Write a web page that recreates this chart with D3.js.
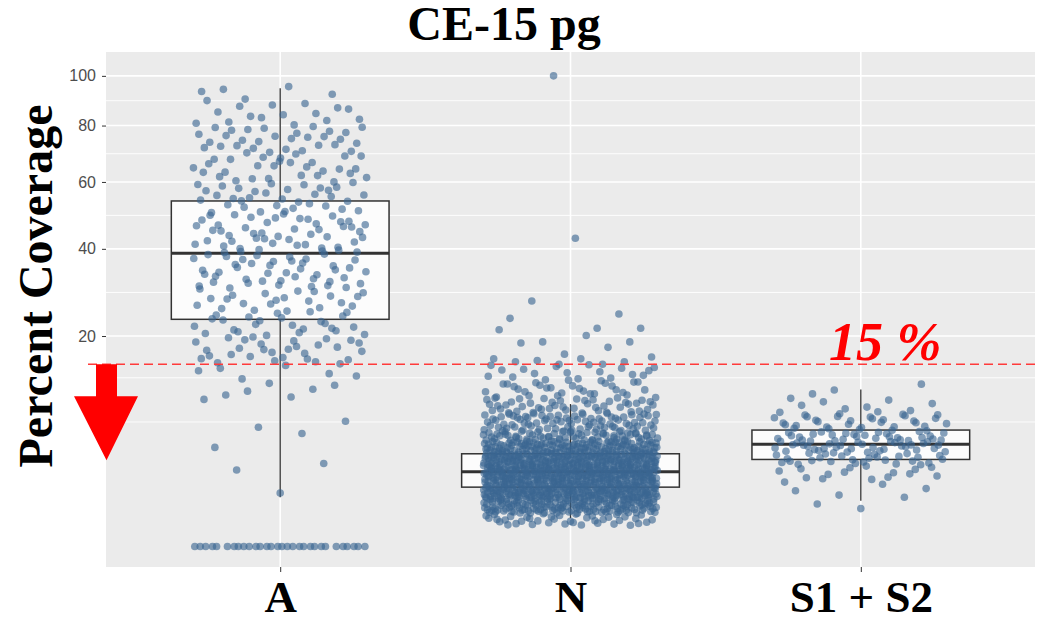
<!DOCTYPE html>
<html>
<head>
<meta charset="utf-8">
<script src="https://cdnjs.cloudflare.com/ajax/libs/d3/7.8.5/d3.min.js"></script>
<style>
  body { margin: 0; background: #fff; }
  svg { display: block; }
</style>
</head>
<body>
<script>
// categories and axis ticks
const categories = ['A', 'N', 'S1 + S2']
const yTicks = [20, 40, 60, 80, 100]
const minorTicks = [7, 12.85, 29.14, 49.5, 69.64, 89.72]
const threshold = 15

// box statistics (percent)
const whiskerLow = [1.1, 0.36, 0.94]
const q1 = [23.3, 1.59, 3.42]
const medians = [38.8, 2.52, 4.73]
const q3 = [53.9, 3.88, 6.12]
const whiskerHigh = [94.8, 9.16, 11.14]

// point counts per value bin (percent)
const binEdges = [0.2, 0.5, 1, 2, 3, 4, 5, 6, 8, 10, 12.5, 15, 20, 25, 30, 40, 50, 60, 70, 80, 90, 96]
const countsA = [0, 0, 1, 1, 1, 1, 1, 2, 1, 6, 6, 30, 25, 22, 50, 45, 35, 30, 30, 16, 5]
const countsN = [40, 140, 280, 240, 190, 120, 65, 80, 45, 30, 18, 0, 0, 0, 0, 0, 0, 0, 0, 0, 0]
const countsS = [0, 2, 6, 15, 28, 32, 28, 32, 10, 3, 0, 0, 0, 0, 0, 0, 0, 0, 0, 0, 0]
const zerosA = 30
const outliersN = [42.9, 27.2, 24.4, 23.5, 21.5, 100, 21.5, 21.2, 20.1, 18.9, 18.9, 18.7, 17.9, 16.7, 16.2, 15.9, 15.9, 15.6, 15.4, 15.4, 15.0, 15.0]

const width = 1038
const height = 623
const panelL = 106, panelR = 1035, panelT = 52, panelB = 567

const svg = d3.select('body').append('svg')
  .attr('width', width)
  .attr('height', height)

const x = d3.scalePoint().domain(categories).range([panelL, panelR]).padding(0.6)
const step = x.step()
const y = d3.scaleSqrt().domain([-0.19, 110.4]).range([panelB, panelT])

// deterministic jitter (Halton sequence)
function halton(i, b) {
  let f = 1, r = 0
  while (i > 0) { f /= b; r += f * (i % b); i = Math.floor(i / b) }
  return r
}

let points = []
function addGroup(cat, counts, extra) {
  let n = 1
  const push = v => { points.push({ cat, v, j: halton(n, 2) * 2 - 1 }); n++ }
  counts.forEach((c, k) => {
    const lo = Math.sqrt(binEdges[k]), hi = Math.sqrt(binEdges[k + 1])
    for (let i = 0; i < c; i++) {
      const s = lo + halton(n, 3) * (hi - lo)
      push(s * s)
    }
  })
  extra.forEach(push)
}
addGroup('A', countsA, d3.range(zerosA).map(() => 0))
addGroup('N', countsN, outliersN)
addGroup('S1 + S2', countsS, [])

// panel
svg.append('rect')
  .attr('x', panelL).attr('y', panelT)
  .attr('width', panelR - panelL).attr('height', panelB - panelT)
  .attr('fill', '#ebebeb')

svg.selectAll('.minor')
  .data(minorTicks)
  .enter().append('line')
  .attr('x1', panelL).attr('x2', panelR)
  .attr('y1', d => y(d)).attr('y2', d => y(d))
  .attr('stroke', '#fff').attr('stroke-width', 0.9)

svg.selectAll('.major')
  .data(yTicks)
  .enter().append('line')
  .attr('x1', panelL).attr('x2', panelR)
  .attr('y1', d => y(d)).attr('y2', d => y(d))
  .attr('stroke', '#fff').attr('stroke-width', 1.6)

svg.selectAll('.vgrid')
  .data(categories)
  .enter().append('line')
  .attr('x1', d => x(d)).attr('x2', d => x(d))
  .attr('y1', panelT).attr('y2', panelB)
  .attr('stroke', '#fff').attr('stroke-width', 1.6)

// boxes
const boxW = 0.75 * step
const boxes = categories.map((c, i) => ({
  c, lo: whiskerLow[i], q1: q1[i], med: medians[i], q3: q3[i], hi: whiskerHigh[i]
}))

const gBox = svg.append('g')
gBox.selectAll('.whisker')
  .data(boxes)
  .enter().append('line')
  .attr('x1', d => x(d.c)).attr('x2', d => x(d.c))
  .attr('y1', d => y(d.lo)).attr('y2', d => y(d.hi))
  .attr('stroke', '#333').attr('stroke-width', 1.3)

gBox.selectAll('.box')
  .data(boxes)
  .enter().append('rect')
  .attr('x', d => x(d.c) - boxW / 2)
  .attr('width', boxW)
  .attr('y', d => y(d.q3))
  .attr('height', d => y(d.q1) - y(d.q3))
  .attr('fill', '#fcfcfc')
  .attr('stroke', '#333').attr('stroke-width', 1.5)

gBox.selectAll('.median')
  .data(boxes)
  .enter().append('line')
  .attr('x1', d => x(d.c) - boxW / 2).attr('x2', d => x(d.c) + boxW / 2)
  .attr('y1', d => y(d.med)).attr('y2', d => y(d.med))
  .attr('stroke', '#333').attr('stroke-width', 3)

// jittered points
svg.append('g').selectAll('circle')
  .data(points)
  .enter().append('circle')
  .attr('cx', d => x(d.cat) + d.j * 0.3 * step)
  .attr('cy', d => y(d.v))
  .attr('r', 3.8)
  .attr('fill', '#3a6591')
  .attr('fill-opacity', 0.62)

// axes
const yAxis = svg.append('g')
  .attr('transform', `translate(${panelL},0)`)
  .call(d3.axisLeft(y).tickValues(yTicks).tickSize(4).tickPadding(6))
yAxis.select('.domain').remove()
yAxis.selectAll('line').attr('stroke', '#333')
yAxis.selectAll('text')
  .attr('fill', '#4d4d4d')
  .attr('font-family', '"Liberation Sans", Arial, sans-serif')
  .attr('font-size', 16)

const xAxis = svg.append('g')
  .attr('transform', `translate(0,${panelB})`)
  .call(d3.axisBottom(x).tickSize(5))
xAxis.select('.domain').remove()
xAxis.selectAll('line').attr('stroke', '#333')
xAxis.selectAll('text')
  .attr('y', 45).attr('dy', 0)
  .attr('fill', '#000')
  .attr('font-family', '"Liberation Serif", "Times New Roman", serif')
  .attr('font-weight', 'bold')
  .attr('font-size', 45)

// threshold line and note
svg.append('line')
  .attr('x1', 88).attr('x2', width)
  .attr('y1', y(threshold)).attr('y2', y(threshold))
  .attr('stroke', '#ff3b3b')
  .attr('stroke-width', 1.5)
  .attr('stroke-dasharray', '9,5')

svg.append('text')
  .attr('x', 829).attr('y', y(threshold) - 4)
  .attr('fill', '#ff0000')
  .attr('font-family', '"Liberation Serif", "Times New Roman", serif')
  .attr('font-weight', 'bold')
  .attr('font-style', 'italic')
  .attr('font-size', 54)
  .text('15 %')

// red arrow
const yt = y(threshold)
svg.append('path')
  .attr('d', `M96,${yt} L117,${yt} L117,${yt + 32} L138,${yt + 32} L106.5,${yt + 96} L74,${yt + 32} L96,${yt + 32} Z`)
  .attr('fill', '#ff0000')

// titles
svg.append('text')
  .attr('x', 504).attr('y', 40)
  .attr('text-anchor', 'middle')
  .attr('font-family', '"Liberation Serif", "Times New Roman", serif')
  .attr('font-weight', 'bold')
  .attr('font-size', 48)
  .text('CE-15 pg')

svg.append('text')
  .attr('transform', 'translate(52,286) rotate(-90)')
  .attr('text-anchor', 'middle')
  .attr('font-family', '"Liberation Serif", "Times New Roman", serif')
  .attr('font-weight', 'bold')
  .attr('font-size', 48)
  .text('Percent Coverage')
</script>
</body>
</html>
